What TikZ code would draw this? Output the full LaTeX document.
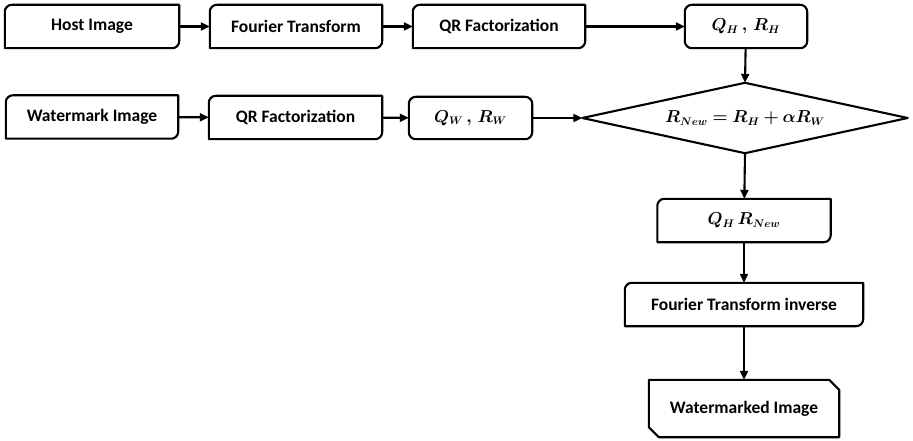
\documentclass[tikz,border=0pt]{standalone}
\usepackage{fontspec}
\setmainfont{Carlito}
\usepackage{amsmath}
\usepackage{bm}
\usetikzlibrary{arrows.meta}
\tikzset{
  x=1pt,y=1pt,
  box/.style={inner sep=0pt, font=\fontsize{17.5}{20}\selectfont\bfseries},
  mbox/.style={inner sep=0pt, font=\fontsize{16}{19}\selectfont},
  outline/.style={line width=2.1pt, line join=round},
  arr/.style={line width=2.1pt, -{Triangle[length=9pt,width=8pt]}},
}
\newcommand\rdiag[1]{%
  \draw[outline] ([yshift=-7pt]#1.north west) arc[start angle=180,end angle=90,radius=7pt]
    -- (#1.north east) -- ([yshift=7pt]#1.south east)
    arc[start angle=0,end angle=-90,radius=7pt] -- (#1.south west) -- cycle;}
\newcommand\rall[1]{%
  \draw[outline,rounded corners=7pt] (#1.north west) rectangle (#1.south east);}
\newcommand\snipdiag[1]{%
  \draw[outline] (#1.north west) -- ([xshift=-10pt]#1.north east) -- ([yshift=-10pt]#1.north east)
    -- (#1.south east) -- ([xshift=10pt]#1.south west) -- ([yshift=10pt]#1.south west) -- cycle;}
\begin{document}
\begin{tikzpicture}
\useasboundingbox (0,0) rectangle (913,-441);
\node[box, minimum width=174, minimum height=43] (host) at (92,-26.5) {Host Image};
\node[box, minimum width=172, minimum height=43] (ft) at (296,-26.5) {Fourier Transform};
\node[box, minimum width=172, minimum height=43] (qr1) at (499,-26.5) {QR Factorization};
\node[mbox, minimum width=122, minimum height=43] (qh) at (746,-26.5) {$\bm{Q_H\,,\,R_H}$};
\node[box, minimum width=172, minimum height=43] (wm) at (92,-117) {Watermark Image};
\node[box, minimum width=173, minimum height=43] (qr2) at (295.5,-117.5) {QR Factorization};
\node[mbox, minimum width=123, minimum height=42] (qw) at (470.5,-118) {$\bm{Q_W\,,\,R_W}$};
\node[mbox, minimum width=325, minimum height=70] (dia) at (745,-118) {$\bm{R_{New} = R_H + \alpha R_W}$};
\node[mbox, minimum width=173, minimum height=43] (qhr) at (744,-220.5) {$\bm{Q_H\,R_{New}}$};
\node[box, minimum width=238, minimum height=43] (fti) at (744,-304.5) {Fourier Transform inverse};
\node[box, minimum width=190, minimum height=57] (wmi) at (744,-408.5) {Watermarked Image};
\rdiag{host}\rdiag{ft}\rdiag{qr1}\rall{qh}
\rdiag{wm}\rdiag{qr2}\rall{qw}
\draw[outline] (dia.west) -- (dia.north) -- (dia.east) -- (dia.south) -- cycle;
\rdiag{qhr}\rdiag{fti}\snipdiag{wmi}
\draw[arr] (host) -- (ft);
\draw[arr] (ft) -- (qr1);
\draw[arr] (qr1) -- (qh);
\draw[arr] (qh) -- (dia.north);
\draw[arr] (wm) -- (qr2);
\draw[arr] (qr2) -- (qw);
\draw[arr] (qw) -- (dia.west);
\draw[arr] (dia.south) -- (qhr);
\draw[arr] (qhr) -- (fti);
\draw[arr] (fti) -- (wmi);
\end{tikzpicture}
\end{document}
